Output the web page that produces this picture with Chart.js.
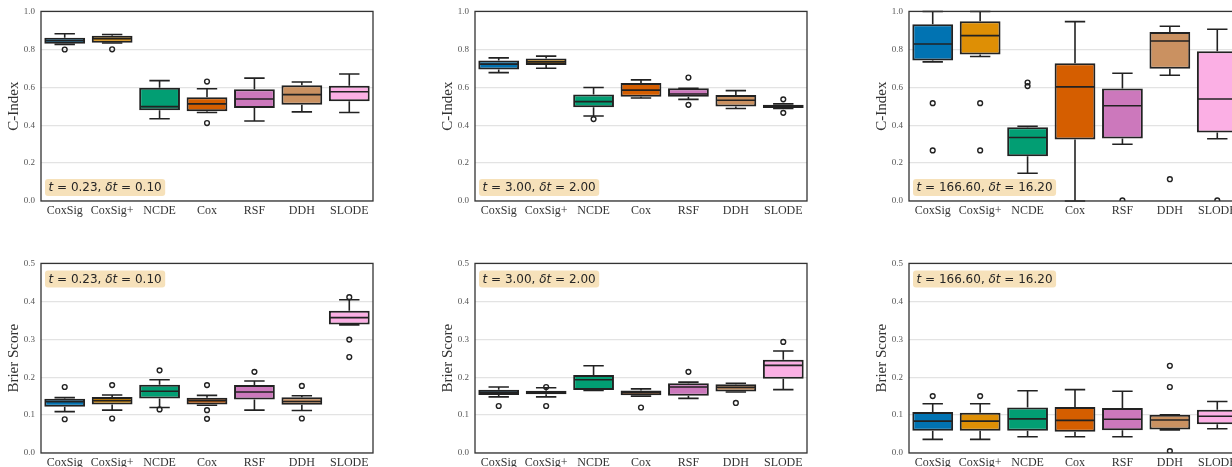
<!DOCTYPE html>
<html>
<head>
<meta charset="utf-8">
<script src="https://cdn.jsdelivr.net/npm/chart.js@4.4.0/dist/chart.umd.min.js"></script>
<style>
  html, body { margin: 0; padding: 0; background: #fff; overflow: hidden; width: 1232px; height: 467px; }
  canvas { position: absolute; }
</style>
</head>
<body>
<script>
// categories and palette
const models = ['CoxSig', 'CoxSig+', 'NCDE', 'Cox', 'RSF', 'DDH', 'SLODE'];
const colors = ['#0173b2', '#de8f05', '#029e73', '#d55e00', '#cc78bc', '#ca9161', '#fbafe4'];

// each row: [whisker low, q1, median, q3, whisker high]
const ciShort = [
  [0.826, 0.830, 0.845, 0.861, 0.882],
  [0.833, 0.835, 0.856, 0.872, 0.878],
  [0.434, 0.479, 0.498, 0.597, 0.635],
  [0.467, 0.474, 0.512, 0.547, 0.592],
  [0.422, 0.490, 0.538, 0.590, 0.648],
  [0.470, 0.507, 0.561, 0.611, 0.628],
  [0.467, 0.526, 0.576, 0.608, 0.670]
];
const ciShortOut = [[0.799], [0.800], [], [0.630, 0.411], [], [], []];

const ciMid = [
  [0.677, 0.694, 0.722, 0.741, 0.755],
  [0.700, 0.717, 0.734, 0.752, 0.764],
  [0.448, 0.495, 0.524, 0.562, 0.599],
  [0.543, 0.550, 0.585, 0.622, 0.639],
  [0.536, 0.550, 0.564, 0.595, 0.595],
  [0.488, 0.498, 0.531, 0.559, 0.582],
  [0.488, 0.490, 0.502, 0.507, 0.512]
];
const ciMidOut = [[], [], [0.432], [], [0.651, 0.507], [], [0.536, 0.465]];

const ciLong = [
  [0.734, 0.741, 0.828, 0.932, 1.000],
  [0.762, 0.773, 0.872, 0.948, 1.000],
  [0.146, 0.236, 0.335, 0.389, 0.394],
  [0.000, 0.325, 0.602, 0.727, 0.946],
  [0.299, 0.330, 0.502, 0.594, 0.674],
  [0.663, 0.698, 0.844, 0.891, 0.922],
  [0.328, 0.361, 0.538, 0.790, 0.906]
];
const ciLongOut = [[0.516, 0.267], [0.516, 0.267], [0.625, 0.606], [], [0.003], [0.115], [0.003]];

const bsShort = [
  [0.109, 0.122, 0.135, 0.143, 0.146],
  [0.113, 0.128, 0.138, 0.148, 0.153],
  [0.120, 0.144, 0.163, 0.180, 0.193],
  [0.126, 0.128, 0.138, 0.146, 0.152],
  [0.113, 0.141, 0.161, 0.179, 0.190],
  [0.112, 0.127, 0.136, 0.147, 0.151],
  [0.338, 0.339, 0.357, 0.375, 0.404]
];
const bsShortOut = [[0.174, 0.089], [0.179, 0.091], [0.218, 0.115], [0.179, 0.113, 0.090], [0.214], [0.177, 0.091], [0.411, 0.299, 0.253]];

const bsMid = [
  [0.148, 0.153, 0.160, 0.167, 0.174],
  [0.148, 0.155, 0.160, 0.164, 0.172],
  [0.165, 0.166, 0.193, 0.206, 0.230],
  [0.150, 0.152, 0.160, 0.165, 0.169],
  [0.144, 0.151, 0.174, 0.184, 0.187],
  [0.161, 0.162, 0.173, 0.181, 0.184],
  [0.167, 0.196, 0.231, 0.246, 0.269]
];
const bsMidOut = [[0.124], [0.174, 0.124], [], [0.120], [0.214], [0.132], [0.293]];

const bsLong = [
  [0.036, 0.059, 0.084, 0.108, 0.130],
  [0.036, 0.059, 0.084, 0.106, 0.130],
  [0.043, 0.059, 0.090, 0.120, 0.164],
  [0.043, 0.056, 0.086, 0.121, 0.167],
  [0.043, 0.060, 0.089, 0.119, 0.163],
  [0.061, 0.062, 0.087, 0.101, 0.101],
  [0.064, 0.076, 0.097, 0.114, 0.136]
];
const bsLongOut = [[0.150], [0.150], [], [], [], [0.230, 0.174, 0.005], []];

const horizons = [['0.23', '0.10'], ['3.00', '2.00'], ['166.60', '16.20']];

const edge = '#222222';

const panels = [
  { rows: ciShort, out: ciShortOut, row: 0, col: 0, metric: 'C-Index', max: 1.0, step: 0.2 },
  { rows: ciMid,   out: ciMidOut,   row: 0, col: 1, metric: 'C-Index', max: 1.0, step: 0.2 },
  { rows: ciLong,  out: ciLongOut,  row: 0, col: 2, metric: 'C-Index', max: 1.0, step: 0.2 },
  { rows: bsShort, out: bsShortOut, row: 1, col: 0, metric: 'Brier Score', max: 0.5, step: 0.1 },
  { rows: bsMid,   out: bsMidOut,   row: 1, col: 1, metric: 'Brier Score', max: 0.5, step: 0.1 },
  { rows: bsLong,  out: bsLongOut,  row: 1, col: 2, metric: 'Brier Score', max: 0.5, step: 0.1 }
];

// whiskers under the boxes, medians / frame / label box on top
const boxPlugin = {
  id: 'boxParts',
  beforeDatasetsDraw(chart) {
    const p = chart.options.plugins.boxParts;
    const ys = chart.scales.y;
    const meta = chart.getDatasetMeta(0);
    const ctx = chart.ctx;
    ctx.save();
    ctx.beginPath();
    ctx.rect(chart.chartArea.left, chart.chartArea.top - 1, chart.chartArea.width, chart.chartArea.height + 2);
    ctx.clip();
    ctx.strokeStyle = edge;
    ctx.lineWidth = 1.6;
    p.rows.forEach((r, i) => {
      const bar = meta.data[i];
      const x = bar.x;
      const half = bar.width / 4;
      const lo = ys.getPixelForValue(r[0]);
      const q1 = ys.getPixelForValue(r[1]);
      const q3 = ys.getPixelForValue(r[3]);
      const hi = ys.getPixelForValue(r[4]);
      ctx.beginPath();
      ctx.moveTo(x, q1); ctx.lineTo(x, lo);
      ctx.moveTo(x - half, lo); ctx.lineTo(x + half, lo);
      ctx.moveTo(x, q3); ctx.lineTo(x, hi);
      ctx.moveTo(x - half, hi); ctx.lineTo(x + half, hi);
      ctx.stroke();
    });
    ctx.restore();
  },
  afterDatasetsDraw(chart) {
    const p = chart.options.plugins.boxParts;
    const ys = chart.scales.y;
    const meta = chart.getDatasetMeta(0);
    const ctx = chart.ctx;
    ctx.save();
    ctx.strokeStyle = edge;
    ctx.lineWidth = 1.6;
    p.rows.forEach((r, i) => {
      const bar = meta.data[i];
      const y = ys.getPixelForValue(r[2]);
      ctx.beginPath();
      ctx.moveTo(bar.x - bar.width / 2 + 1, y);
      ctx.lineTo(bar.x + bar.width / 2 - 1, y);
      ctx.stroke();
    });
    ctx.restore();
  },
  afterDraw(chart) {
    const p = chart.options.plugins.boxParts;
    const a = chart.chartArea;
    const ctx = chart.ctx;
    ctx.save();
    ctx.strokeStyle = '#333333';
    ctx.lineWidth = 1.3;
    ctx.strokeRect(a.left, a.top, a.width, a.height);

    // horizon label, mathtext style
    const size = 12;
    const segs = [
      ['t', true], [' = ' + p.h[0] + ', ', false], ['\u03b4t', true], [' = ' + p.h[1], false]
    ];
    let w = 0;
    segs.forEach(s => {
      ctx.font = (s[1] ? 'italic ' : '') + size + 'px "DejaVu Sans"';
      w += ctx.measureText(s[0]).width;
    });
    const bw = w + 7, bh = 17;
    const bx = a.left + 4;
    const by = p.row === 0 ? a.bottom - 5 - bh : a.top + 7;
    ctx.fillStyle = 'rgba(245, 222, 179, 0.9)';
    ctx.beginPath();
    ctx.roundRect(bx, by, bw, bh, 3);
    ctx.fill();
    ctx.fillStyle = '#262626';
    ctx.textBaseline = 'middle';
    let tx = bx + 3.5;
    segs.forEach(s => {
      ctx.font = (s[1] ? 'italic ' : '') + size + 'px "DejaVu Sans"';
      ctx.fillText(s[0], tx, by + bh / 2 + 0.5);
      tx += ctx.measureText(s[0]).width;
    });
    ctx.restore();
  }
};

panels.forEach((p, k) => {
  const cv = document.createElement('canvas');
  cv.width = 434;
  cv.height = 230;
  cv.style.left = (p.col * 434) + 'px';
  cv.style.top = (p.row * 252) + 'px';
  document.body.appendChild(cv);

  const outliers = [];
  p.out.forEach((list, i) => list.forEach(v => outliers.push({ x: models[i], y: v })));

  new Chart(cv, {
    type: 'bar',
    data: {
      labels: models,
      datasets: [
        {
          type: 'bar',
          data: p.rows.map(r => [r[1], r[3]]),
          backgroundColor: colors,
          borderColor: edge,
          borderWidth: 2,
          borderSkipped: false,
          barPercentage: 0.86,
          categoryPercentage: 1,
          order: 2
        },
        {
          type: 'scatter',
          data: outliers,
          pointRadius: 2.4,
          pointBorderWidth: 1.4,
          pointBorderColor: edge,
          pointBackgroundColor: 'rgba(255,255,255,0)',
          order: 1
        }
      ]
    },
    options: {
      responsive: false,
      animation: false,
      layout: { padding: { left: 0, top: 9, right: 61, bottom: 0 } },
      plugins: {
        legend: { display: false },
        tooltip: { enabled: false },
        boxParts: { rows: p.rows, h: horizons[p.col], row: p.row }
      },
      scales: {
        x: {
          type: 'category',
          offset: true,
          grid: { display: false, drawTicks: false },
          border: { display: false },
          ticks: {
            color: '#333333',
            padding: 3,
            maxRotation: 0,
            minRotation: 0,
            autoSkip: false,
            font: { family: '"Liberation Serif"', size: 12 }
          },
          afterFit: s => { s.height = 29; }
        },
        y: {
          min: 0,
          max: p.max,
          ticks: {
            stepSize: p.step,
            padding: 6,
            color: '#555555',
            font: { family: '"Liberation Serif"', size: 9 },
            callback: v => v.toFixed(1)
          },
          grid: { color: '#e3e3e3', lineWidth: 1.3, drawTicks: false },
          border: { display: false },
          title: {
            display: true,
            text: p.metric,
            color: '#333333',
            padding: { top: 5, bottom: 0 },
            font: { family: '"Liberation Serif"', size: 15 }
          },
          afterFit: s => { s.width = 41; }
        }
      }
    },
    plugins: [boxPlugin]
  });
});
</script>
</body>
</html>
